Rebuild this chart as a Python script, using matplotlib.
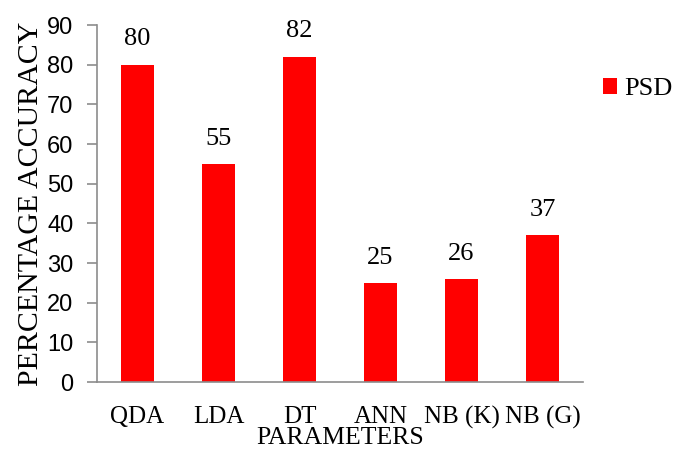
import matplotlib
matplotlib.use('Agg')
import matplotlib.pyplot as plt

models = ['QDA', 'LDA', 'DT', 'ANN', 'NB (K)', 'NB (G)']
psd_acc = [80, 55, 82, 25, 26, 37]

serif = ['Liberation Serif', 'DejaVu Serif']
sans = ['Liberation Sans', 'DejaVu Sans']

fig = plt.figure(figsize=(6.75, 4.49), dpi=100)
ax = fig.add_axes([0.1437, 0.1492, 0.72, 0.7951])

x = range(len(models))
bars = ax.bar(x, psd_acc, width=0.4, color='#ff0000', label='PSD')

for b, v in zip(bars, psd_acc):
    ax.text(b.get_x() + b.get_width() / 2, v + 3.6, str(v), ha='center', va='bottom',
            fontsize=19, family=serif)

ax.set_xlim(-0.5, len(models) - 0.5)
ax.set_ylim(0, 90)
ax.set_yticks(range(0, 91, 10))
ax.set_xticks(list(x))
ax.set_xticklabels(models, family=serif, fontsize=18)
for lab in ax.get_yticklabels():
    lab.set_family(sans)
    lab.set_fontsize(17)

ax.tick_params(axis='x', length=0, pad=17)
ax.tick_params(axis='y', length=7, width=1.2, color='#8c8c8c', pad=10)

for s in ['top', 'right']:
    ax.spines[s].set_visible(False)
for s in ['left', 'bottom']:
    ax.spines[s].set_color('#8c8c8c')
    ax.spines[s].set_linewidth(1.2)

ax.set_ylabel('PERCENTAGE ACCURACY', family=serif, fontsize=21.5, labelpad=2)
ax.set_xlabel('PARAMETERS', family=serif, fontsize=18.5, labelpad=-1)

fig.legend(loc='upper left', bbox_to_anchor=(0.893, 0.826), frameon=False,
           prop={'family': serif, 'size': 19}, handlelength=0.53, handleheight=0.53,
           handletextpad=0.3, borderpad=0, borderaxespad=0)

fig.savefig('out.png', dpi=100)
